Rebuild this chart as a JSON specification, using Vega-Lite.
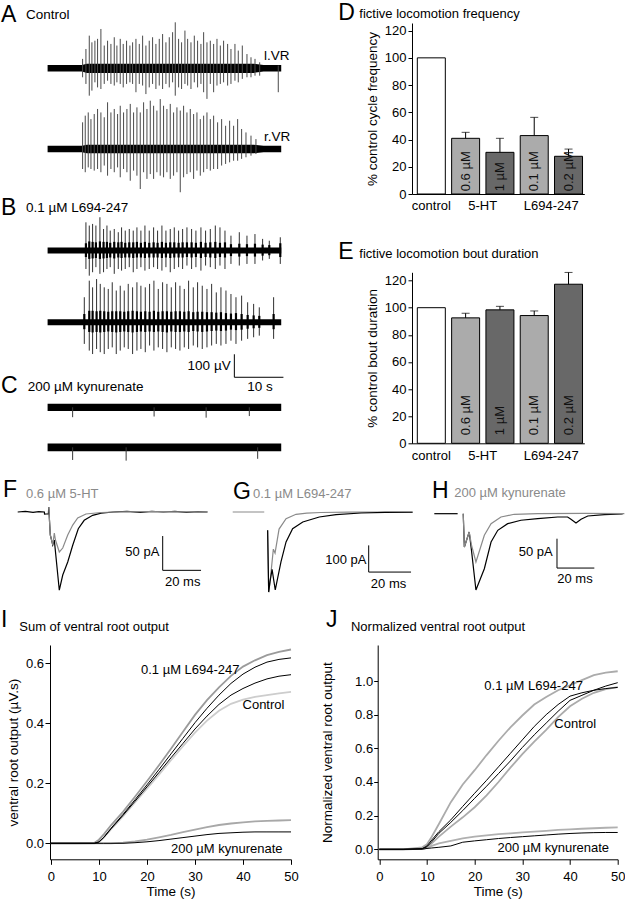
{
"$schema":"https://vega.github.io/schema/vega-lite/v6.json",
"padding":{"top":2,"left":0,"right":0,"bottom":0},
"background":"white",
"config":{
 "view":{"stroke":null},
 "font":"Liberation Sans",
 "axis":{"domainColor":"black","tickColor":"black","labelColor":"black","titleColor":"black","labelFontSize":13,"titleFontSize":13.5,"titleFontWeight":"normal","grid":false,"labelFont":"Liberation Sans","titleFont":"Liberation Sans","domainWidth":1,"tickWidth":1,"labelOverlap":false},
 "axisY":{"labelOverlap":false,"labelSeparation":-20},
 "text":{"font":"Liberation Sans","color":"black"}
},
"datasets":{
"bands":[
{"trace":"A l.VR","t":0,"lo":-14,"hi":14},{"trace":"A l.VR","t":7,"lo":-14,"hi":14},{"trace":"A l.VR","t":8,"lo":-20,"hi":20},{"trace":"A l.VR","t":42,"lo":-20,"hi":20},{"trace":"A l.VR","t":44,"lo":-14,"hi":14},{"trace":"A l.VR","t":47.6,"lo":-14,"hi":14},
{"trace":"A r.VR","t":0,"lo":-14,"hi":14},{"trace":"A r.VR","t":7,"lo":-14,"hi":14},{"trace":"A r.VR","t":8,"lo":-19,"hi":19},{"trace":"A r.VR","t":42,"lo":-19,"hi":19},{"trace":"A r.VR","t":44,"lo":-14,"hi":14},{"trace":"A r.VR","t":47.6,"lo":-14,"hi":14},
{"trace":"B l.VR","t":0,"lo":-13,"hi":13},{"trace":"B l.VR","t":47.6,"lo":-13,"hi":13},
{"trace":"B r.VR","t":0,"lo":-13,"hi":13},{"trace":"B r.VR","t":47.6,"lo":-13,"hi":13},
{"trace":"C l.VR","t":0,"lo":-16,"hi":16},{"trace":"C l.VR","t":47.6,"lo":-16,"hi":16},
{"trace":"C r.VR","t":0,"lo":-17,"hi":17},{"trace":"C r.VR","t":47.6,"lo":-17,"hi":17}
],
"spikes":[
{"trace":"A l.VR","t":7.13,"lo":-39,"hi":41},{"trace":"A l.VR","t":7.81,"lo":-68,"hi":84},{"trace":"A l.VR","t":8.49,"lo":-119,"hi":142},{"trace":"A l.VR","t":9.03,"lo":-97,"hi":113},{"trace":"A l.VR","t":9.64,"lo":-61,"hi":120},{"trace":"A l.VR","t":10.18,"lo":-83,"hi":128},{"trace":"A l.VR","t":10.86,"lo":-90,"hi":171},{"trace":"A l.VR","t":11.54,"lo":-68,"hi":99},{"trace":"A l.VR","t":12.22,"lo":-54,"hi":120},{"trace":"A l.VR","t":12.9,"lo":-68,"hi":106},{"trace":"A l.VR","t":13.58,"lo":-75,"hi":135},{"trace":"A l.VR","t":14.12,"lo":-61,"hi":99},{"trace":"A l.VR","t":14.8,"lo":-68,"hi":128},{"trace":"A l.VR","t":15.41,"lo":-83,"hi":106},{"trace":"A l.VR","t":16.09,"lo":-68,"hi":120},{"trace":"A l.VR","t":16.77,"lo":-61,"hi":99},{"trace":"A l.VR","t":17.32,"lo":-68,"hi":113},{"trace":"A l.VR","t":18.0,"lo":-104,"hi":128},{"trace":"A l.VR","t":18.68,"lo":-68,"hi":106},{"trace":"A l.VR","t":19.36,"lo":-75,"hi":142},{"trace":"A l.VR","t":20.03,"lo":-112,"hi":99},{"trace":"A l.VR","t":20.71,"lo":-83,"hi":120},{"trace":"A l.VR","t":21.39,"lo":-68,"hi":135},{"trace":"A l.VR","t":22.07,"lo":-90,"hi":106},{"trace":"A l.VR","t":22.75,"lo":-75,"hi":128},{"trace":"A l.VR","t":23.43,"lo":-90,"hi":149},{"trace":"A l.VR","t":24.11,"lo":-68,"hi":113},{"trace":"A l.VR","t":24.79,"lo":-83,"hi":135},{"trace":"A l.VR","t":25.47,"lo":-61,"hi":157},{"trace":"A l.VR","t":26.01,"lo":-119,"hi":200},{"trace":"A l.VR","t":26.69,"lo":-83,"hi":128},{"trace":"A l.VR","t":27.3,"lo":-90,"hi":113},{"trace":"A l.VR","t":27.98,"lo":-68,"hi":164},{"trace":"A l.VR","t":28.53,"lo":-75,"hi":128},{"trace":"A l.VR","t":29.21,"lo":-90,"hi":113},{"trace":"A l.VR","t":29.89,"lo":-61,"hi":142},{"trace":"A l.VR","t":30.56,"lo":-83,"hi":120},{"trace":"A l.VR","t":31.24,"lo":-68,"hi":106},{"trace":"A l.VR","t":31.79,"lo":-104,"hi":157},{"trace":"A l.VR","t":32.47,"lo":-133,"hi":113},{"trace":"A l.VR","t":33.15,"lo":-68,"hi":120},{"trace":"A l.VR","t":33.83,"lo":-104,"hi":106},{"trace":"A l.VR","t":34.51,"lo":-75,"hi":128},{"trace":"A l.VR","t":35.19,"lo":-68,"hi":99},{"trace":"A l.VR","t":35.86,"lo":-61,"hi":120},{"trace":"A l.VR","t":36.68,"lo":-75,"hi":106},{"trace":"A l.VR","t":37.36,"lo":-68,"hi":84},{"trace":"A l.VR","t":38.17,"lo":-54,"hi":106},{"trace":"A l.VR","t":38.85,"lo":-61,"hi":77},{"trace":"A l.VR","t":39.67,"lo":-46,"hi":99},{"trace":"A l.VR","t":40.62,"lo":-39,"hi":62},{"trace":"A l.VR","t":41.44,"lo":-39,"hi":48},{"trace":"A l.VR","t":42.26,"lo":-32,"hi":41},{"trace":"A l.VR","t":43.21,"lo":-32,"hi":26},{"trace":"A l.VR","t":47.0,"lo":-104,"hi":12},
{"trace":"A r.VR","t":7.13,"lo":-87,"hi":116},{"trace":"A r.VR","t":7.67,"lo":-101,"hi":145},{"trace":"A r.VR","t":8.28,"lo":-80,"hi":159},{"trace":"A r.VR","t":8.83,"lo":-87,"hi":130},{"trace":"A r.VR","t":9.5,"lo":-94,"hi":152},{"trace":"A r.VR","t":10.18,"lo":-87,"hi":174},{"trace":"A r.VR","t":10.86,"lo":-101,"hi":159},{"trace":"A r.VR","t":11.54,"lo":-72,"hi":138},{"trace":"A r.VR","t":12.22,"lo":-116,"hi":203},{"trace":"A r.VR","t":12.9,"lo":-87,"hi":159},{"trace":"A r.VR","t":13.58,"lo":-101,"hi":174},{"trace":"A r.VR","t":14.26,"lo":-80,"hi":152},{"trace":"A r.VR","t":14.8,"lo":-123,"hi":188},{"trace":"A r.VR","t":15.48,"lo":-87,"hi":159},{"trace":"A r.VR","t":16.16,"lo":-101,"hi":174},{"trace":"A r.VR","t":16.84,"lo":-138,"hi":196},{"trace":"A r.VR","t":17.52,"lo":-94,"hi":159},{"trace":"A r.VR","t":18.2,"lo":-116,"hi":181},{"trace":"A r.VR","t":18.88,"lo":-174,"hi":159},{"trace":"A r.VR","t":19.56,"lo":-101,"hi":203},{"trace":"A r.VR","t":20.24,"lo":-130,"hi":174},{"trace":"A r.VR","t":20.92,"lo":-109,"hi":210},{"trace":"A r.VR","t":21.6,"lo":-130,"hi":188},{"trace":"A r.VR","t":22.27,"lo":-101,"hi":167},{"trace":"A r.VR","t":22.95,"lo":-116,"hi":217},{"trace":"A r.VR","t":23.63,"lo":-123,"hi":188},{"trace":"A r.VR","t":24.31,"lo":-101,"hi":174},{"trace":"A r.VR","t":24.99,"lo":-130,"hi":196},{"trace":"A r.VR","t":25.67,"lo":-116,"hi":159},{"trace":"A r.VR","t":26.35,"lo":-101,"hi":181},{"trace":"A r.VR","t":27.03,"lo":-188,"hi":167},{"trace":"A r.VR","t":27.71,"lo":-123,"hi":188},{"trace":"A r.VR","t":28.39,"lo":-109,"hi":159},{"trace":"A r.VR","t":29.07,"lo":-101,"hi":174},{"trace":"A r.VR","t":29.75,"lo":-130,"hi":152},{"trace":"A r.VR","t":30.43,"lo":-94,"hi":159},{"trace":"A r.VR","t":31.11,"lo":-116,"hi":130},{"trace":"A r.VR","t":31.79,"lo":-101,"hi":145},{"trace":"A r.VR","t":32.47,"lo":-87,"hi":159},{"trace":"A r.VR","t":33.15,"lo":-94,"hi":130},{"trace":"A r.VR","t":33.83,"lo":-87,"hi":145},{"trace":"A r.VR","t":34.64,"lo":-87,"hi":116},{"trace":"A r.VR","t":35.46,"lo":-72,"hi":130},{"trace":"A r.VR","t":36.27,"lo":-65,"hi":101},{"trace":"A r.VR","t":37.09,"lo":-58,"hi":123},{"trace":"A r.VR","t":37.9,"lo":-51,"hi":101},{"trace":"A r.VR","t":38.72,"lo":-51,"hi":130},{"trace":"A r.VR","t":39.53,"lo":-43,"hi":87},{"trace":"A r.VR","t":40.42,"lo":-36,"hi":72},{"trace":"A r.VR","t":41.44,"lo":-29,"hi":58},{"trace":"A r.VR","t":42.45,"lo":-22,"hi":43},
{"trace":"B l.VR","t":7.81,"lo":-80,"hi":123},{"trace":"B l.VR","t":8.49,"lo":-109,"hi":109},{"trace":"B l.VR","t":9.17,"lo":-94,"hi":116},{"trace":"B l.VR","t":9.84,"lo":-72,"hi":109},{"trace":"B l.VR","t":10.66,"lo":-101,"hi":145},{"trace":"B l.VR","t":11.4,"lo":-94,"hi":94},{"trace":"B l.VR","t":12.09,"lo":-80,"hi":109},{"trace":"B l.VR","t":12.76,"lo":-72,"hi":87},{"trace":"B l.VR","t":13.58,"lo":-101,"hi":94},{"trace":"B l.VR","t":14.4,"lo":-80,"hi":80},{"trace":"B l.VR","t":15.07,"lo":-87,"hi":101},{"trace":"B l.VR","t":15.82,"lo":-80,"hi":87},{"trace":"B l.VR","t":16.64,"lo":-72,"hi":94},{"trace":"B l.VR","t":17.45,"lo":-94,"hi":87},{"trace":"B l.VR","t":18.2,"lo":-80,"hi":101},{"trace":"B l.VR","t":19.01,"lo":-72,"hi":87},{"trace":"B l.VR","t":19.83,"lo":-87,"hi":109},{"trace":"B l.VR","t":20.71,"lo":-80,"hi":87},{"trace":"B l.VR","t":21.6,"lo":-72,"hi":101},{"trace":"B l.VR","t":22.41,"lo":-80,"hi":87},{"trace":"B l.VR","t":23.29,"lo":-87,"hi":109},{"trace":"B l.VR","t":24.11,"lo":-72,"hi":87},{"trace":"B l.VR","t":24.99,"lo":-94,"hi":94},{"trace":"B l.VR","t":25.81,"lo":-80,"hi":101},{"trace":"B l.VR","t":26.69,"lo":-72,"hi":87},{"trace":"B l.VR","t":27.51,"lo":-80,"hi":94},{"trace":"B l.VR","t":28.39,"lo":-65,"hi":101},{"trace":"B l.VR","t":29.34,"lo":-80,"hi":94},{"trace":"B l.VR","t":30.22,"lo":-72,"hi":87},{"trace":"B l.VR","t":31.24,"lo":-87,"hi":101},{"trace":"B l.VR","t":32.19,"lo":-65,"hi":87},{"trace":"B l.VR","t":33.15,"lo":-72,"hi":94},{"trace":"B l.VR","t":34.17,"lo":-80,"hi":109},{"trace":"B l.VR","t":35.12,"lo":-65,"hi":101},{"trace":"B l.VR","t":36.14,"lo":-80,"hi":87},{"trace":"B l.VR","t":37.36,"lo":-58,"hi":65},{"trace":"B l.VR","t":39.06,"lo":-65,"hi":80},{"trace":"B l.VR","t":40.62,"lo":-58,"hi":65},{"trace":"B l.VR","t":42.25,"lo":-58,"hi":72},{"trace":"B l.VR","t":43.81,"lo":-43,"hi":51},{"trace":"B l.VR","t":45.17,"lo":-36,"hi":43},{"trace":"B l.VR","t":47.41,"lo":-58,"hi":58},
{"trace":"B r.VR","t":7.48,"lo":-94,"hi":109},{"trace":"B r.VR","t":8.49,"lo":-123,"hi":181},{"trace":"B r.VR","t":9.17,"lo":-138,"hi":152},{"trace":"B r.VR","t":9.98,"lo":-116,"hi":188},{"trace":"B r.VR","t":10.73,"lo":-130,"hi":167},{"trace":"B r.VR","t":11.54,"lo":-138,"hi":152},{"trace":"B r.VR","t":12.36,"lo":-116,"hi":145},{"trace":"B r.VR","t":13.17,"lo":-109,"hi":174},{"trace":"B r.VR","t":13.99,"lo":-138,"hi":138},{"trace":"B r.VR","t":14.8,"lo":-123,"hi":159},{"trace":"B r.VR","t":15.62,"lo":-109,"hi":138},{"trace":"B r.VR","t":16.43,"lo":-116,"hi":167},{"trace":"B r.VR","t":17.32,"lo":-138,"hi":152},{"trace":"B r.VR","t":18.2,"lo":-123,"hi":174},{"trace":"B r.VR","t":19.01,"lo":-116,"hi":159},{"trace":"B r.VR","t":19.9,"lo":-130,"hi":152},{"trace":"B r.VR","t":20.78,"lo":-101,"hi":167},{"trace":"B r.VR","t":21.66,"lo":-123,"hi":181},{"trace":"B r.VR","t":22.55,"lo":-109,"hi":145},{"trace":"B r.VR","t":23.43,"lo":-116,"hi":174},{"trace":"B r.VR","t":24.31,"lo":-130,"hi":167},{"trace":"B r.VR","t":25.2,"lo":-109,"hi":152},{"trace":"B r.VR","t":26.08,"lo":-116,"hi":174},{"trace":"B r.VR","t":26.96,"lo":-123,"hi":159},{"trace":"B r.VR","t":27.85,"lo":-109,"hi":145},{"trace":"B r.VR","t":28.73,"lo":-116,"hi":181},{"trace":"B r.VR","t":29.68,"lo":-101,"hi":152},{"trace":"B r.VR","t":30.56,"lo":-109,"hi":174},{"trace":"B r.VR","t":31.51,"lo":-116,"hi":159},{"trace":"B r.VR","t":32.47,"lo":-109,"hi":145},{"trace":"B r.VR","t":33.42,"lo":-101,"hi":167},{"trace":"B r.VR","t":34.37,"lo":-94,"hi":130},{"trace":"B r.VR","t":35.32,"lo":-101,"hi":152},{"trace":"B r.VR","t":36.34,"lo":-94,"hi":138},{"trace":"B r.VR","t":37.36,"lo":-80,"hi":123},{"trace":"B r.VR","t":38.38,"lo":-94,"hi":109},{"trace":"B r.VR","t":39.53,"lo":-80,"hi":116},{"trace":"B r.VR","t":40.76,"lo":-72,"hi":87},{"trace":"B r.VR","t":41.98,"lo":-65,"hi":80},{"trace":"B r.VR","t":43.13,"lo":-58,"hi":65},{"trace":"B r.VR","t":46.05,"lo":-72,"hi":109},
{"trace":"C l.VR","t":5.1,"lo":-43,"hi":0},{"trace":"C l.VR","t":21.7,"lo":-40,"hi":0},{"trace":"C l.VR","t":32.3,"lo":-45,"hi":0},{"trace":"C l.VR","t":41.1,"lo":-38,"hi":0},
{"trace":"C r.VR","t":5.1,"lo":-55,"hi":0},{"trace":"C r.VR","t":16.0,"lo":-58,"hi":0},{"trace":"C r.VR","t":42.8,"lo":-50,"hi":0}
],
"cores":[
{"trace":"B l.VR","t":7.81,"lo":-28,"hi":32},{"trace":"B l.VR","t":8.49,"lo":-36,"hi":40},{"trace":"B l.VR","t":9.17,"lo":-34,"hi":38},{"trace":"B l.VR","t":9.84,"lo":-32,"hi":36},{"trace":"B l.VR","t":10.66,"lo":-36,"hi":40},{"trace":"B l.VR","t":11.4,"lo":-34,"hi":38},{"trace":"B l.VR","t":12.09,"lo":-32,"hi":38},{"trace":"B l.VR","t":12.76,"lo":-30,"hi":34},{"trace":"B l.VR","t":13.58,"lo":-34,"hi":38},{"trace":"B l.VR","t":14.4,"lo":-30,"hi":36},{"trace":"B l.VR","t":15.07,"lo":-32,"hi":38},{"trace":"B l.VR","t":15.82,"lo":-30,"hi":34},{"trace":"B l.VR","t":16.64,"lo":-30,"hi":36},{"trace":"B l.VR","t":17.45,"lo":-32,"hi":36},{"trace":"B l.VR","t":18.2,"lo":-30,"hi":38},{"trace":"B l.VR","t":19.01,"lo":-30,"hi":34},{"trace":"B l.VR","t":19.83,"lo":-32,"hi":38},{"trace":"B l.VR","t":20.71,"lo":-30,"hi":34},{"trace":"B l.VR","t":21.6,"lo":-30,"hi":36},{"trace":"B l.VR","t":22.41,"lo":-30,"hi":34},{"trace":"B l.VR","t":23.29,"lo":-32,"hi":38},{"trace":"B l.VR","t":24.11,"lo":-30,"hi":34},{"trace":"B l.VR","t":24.99,"lo":-32,"hi":36},{"trace":"B l.VR","t":25.81,"lo":-30,"hi":36},{"trace":"B l.VR","t":26.69,"lo":-30,"hi":34},{"trace":"B l.VR","t":27.51,"lo":-30,"hi":36},{"trace":"B l.VR","t":28.39,"lo":-28,"hi":36},{"trace":"B l.VR","t":29.34,"lo":-30,"hi":36},{"trace":"B l.VR","t":30.22,"lo":-28,"hi":34},{"trace":"B l.VR","t":31.24,"lo":-32,"hi":38},{"trace":"B l.VR","t":32.19,"lo":-28,"hi":34},{"trace":"B l.VR","t":33.15,"lo":-30,"hi":36},{"trace":"B l.VR","t":34.17,"lo":-32,"hi":38},{"trace":"B l.VR","t":35.12,"lo":-28,"hi":34},{"trace":"B l.VR","t":36.14,"lo":-30,"hi":36},{"trace":"B l.VR","t":37.36,"lo":-24,"hi":28},{"trace":"B l.VR","t":39.06,"lo":-26,"hi":30},{"trace":"B l.VR","t":40.62,"lo":-24,"hi":28},{"trace":"B l.VR","t":42.25,"lo":-26,"hi":30},{"trace":"B l.VR","t":43.81,"lo":-22,"hi":26},{"trace":"B l.VR","t":45.17,"lo":-20,"hi":24},{"trace":"B l.VR","t":47.41,"lo":-28,"hi":32},
{"trace":"B r.VR","t":7.48,"lo":-30,"hi":36},{"trace":"B r.VR","t":8.49,"lo":-42,"hi":50},{"trace":"B r.VR","t":9.17,"lo":-44,"hi":50},{"trace":"B r.VR","t":9.98,"lo":-42,"hi":48},{"trace":"B r.VR","t":10.73,"lo":-44,"hi":50},{"trace":"B r.VR","t":11.54,"lo":-42,"hi":48},{"trace":"B r.VR","t":12.36,"lo":-40,"hi":46},{"trace":"B r.VR","t":13.17,"lo":-42,"hi":48},{"trace":"B r.VR","t":13.99,"lo":-44,"hi":48},{"trace":"B r.VR","t":14.8,"lo":-42,"hi":48},{"trace":"B r.VR","t":15.62,"lo":-40,"hi":46},{"trace":"B r.VR","t":16.43,"lo":-42,"hi":48},{"trace":"B r.VR","t":17.32,"lo":-44,"hi":50},{"trace":"B r.VR","t":18.2,"lo":-42,"hi":48},{"trace":"B r.VR","t":19.01,"lo":-40,"hi":46},{"trace":"B r.VR","t":19.9,"lo":-42,"hi":48},{"trace":"B r.VR","t":20.78,"lo":-40,"hi":46},{"trace":"B r.VR","t":21.66,"lo":-42,"hi":50},{"trace":"B r.VR","t":22.55,"lo":-40,"hi":46},{"trace":"B r.VR","t":23.43,"lo":-42,"hi":48},{"trace":"B r.VR","t":24.31,"lo":-44,"hi":48},{"trace":"B r.VR","t":25.2,"lo":-40,"hi":46},{"trace":"B r.VR","t":26.08,"lo":-42,"hi":48},{"trace":"B r.VR","t":26.96,"lo":-42,"hi":48},{"trace":"B r.VR","t":27.85,"lo":-40,"hi":46},{"trace":"B r.VR","t":28.73,"lo":-42,"hi":48},{"trace":"B r.VR","t":29.68,"lo":-38,"hi":44},{"trace":"B r.VR","t":30.56,"lo":-40,"hi":46},{"trace":"B r.VR","t":31.51,"lo":-42,"hi":46},{"trace":"B r.VR","t":32.47,"lo":-40,"hi":44},{"trace":"B r.VR","t":33.42,"lo":-38,"hi":44},{"trace":"B r.VR","t":34.37,"lo":-36,"hi":42},{"trace":"B r.VR","t":35.32,"lo":-38,"hi":44},{"trace":"B r.VR","t":36.34,"lo":-36,"hi":40},{"trace":"B r.VR","t":37.36,"lo":-32,"hi":38},{"trace":"B r.VR","t":38.38,"lo":-34,"hi":40},{"trace":"B r.VR","t":39.53,"lo":-32,"hi":36},{"trace":"B r.VR","t":40.76,"lo":-28,"hi":32},{"trace":"B r.VR","t":41.98,"lo":-26,"hi":30},{"trace":"B r.VR","t":43.13,"lo":-24,"hi":28},{"trace":"B r.VR","t":46.05,"lo":-30,"hi":36}
],
"freq":[
{"condition":"control","dose":"control","label":"","mean":100,"upper":100},
{"condition":"0.6 µM 5-HT","dose":"lower dose","label":"0.6 µM","mean":40.9,"upper":45.3},
{"condition":"1 µM 5-HT","dose":"higher dose","label":"1 µM","mean":30.6,"upper":40.9},
{"condition":"0.1 µM L694-247","dose":"lower dose","label":"0.1 µM","mean":42.9,"upper":56.3},
{"condition":"0.2 µM L694-247","dose":"higher dose","label":"0.2 µM","mean":27.7,"upper":33.0}
],
"dur":[
{"condition":"control","dose":"control","label":"","mean":100,"upper":100},
{"condition":"0.6 µM 5-HT","dose":"lower dose","label":"0.6 µM","mean":92.5,"upper":95.9},
{"condition":"1 µM 5-HT","dose":"higher dose","label":"1 µM","mean":98.4,"upper":101.0},
{"condition":"0.1 µM L694-247","dose":"lower dose","label":"0.1 µM","mean":94.2,"upper":97.6},
{"condition":"0.2 µM L694-247","dose":"higher dose","label":"0.2 µM","mean":117.3,"upper":126.0}
],
"epsc":[
{"panel":"F","cond":"control","part":"main","t":0,"i":0},{"panel":"F","cond":"control","part":"main","t":4,"i":0.8},{"panel":"F","cond":"control","part":"main","t":8,"i":-0.6},{"panel":"F","cond":"control","part":"main","t":11,"i":0.5},{"panel":"F","cond":"control","part":"main","t":13.9,"i":0},{"panel":"F","cond":"control","part":"main","t":14.0,"i":-2.9},{"panel":"F","cond":"control","part":"main","t":16.0,"i":-2.5},{"panel":"F","cond":"control","part":"main","t":16.2,"i":7.3},{"panel":"F","cond":"control","part":"main","t":17.0,"i":-33.5},{"panel":"F","cond":"control","part":"main","t":18.3,"i":-48},{"panel":"F","cond":"control","part":"main","t":19.1,"i":-41},{"panel":"F","cond":"control","part":"main","t":21.7,"i":-114},{"panel":"F","cond":"control","part":"main","t":23.5,"i":-91.8},{"panel":"F","cond":"control","part":"main","t":26.1,"i":-72.9},{"panel":"F","cond":"control","part":"main","t":28.7,"i":-48.5},{"panel":"F","cond":"control","part":"main","t":31.6,"i":-24.3},{"panel":"F","cond":"control","part":"main","t":34.7,"i":-12.1},{"panel":"F","cond":"control","part":"main","t":39.1,"i":-4.8},{"panel":"F","cond":"control","part":"main","t":43.5,"i":-1.5},{"panel":"F","cond":"control","part":"main","t":50,"i":0},{"panel":"F","cond":"control","part":"main","t":57,"i":0.8},{"panel":"F","cond":"control","part":"main","t":64,"i":-0.5},{"panel":"F","cond":"control","part":"main","t":70,"i":1},{"panel":"F","cond":"control","part":"main","t":76,"i":0},{"panel":"F","cond":"control","part":"main","t":82,"i":1},{"panel":"F","cond":"control","part":"main","t":88,"i":-0.6},{"panel":"F","cond":"control","part":"main","t":94,"i":0.5},{"panel":"F","cond":"control","part":"main","t":99,"i":0},
{"panel":"F","cond":"drug","part":"main","t":16.2,"i":7.3},{"panel":"F","cond":"drug","part":"main","t":17.0,"i":-33.5},{"panel":"F","cond":"drug","part":"main","t":18.3,"i":-48},{"panel":"F","cond":"drug","part":"main","t":19.1,"i":-30.6},{"panel":"F","cond":"drug","part":"main","t":19.7,"i":-40.8},{"panel":"F","cond":"drug","part":"main","t":21.7,"i":-58.3},{"panel":"F","cond":"drug","part":"main","t":23.5,"i":-52.5},{"panel":"F","cond":"drug","part":"main","t":26.1,"i":-33.5},{"panel":"F","cond":"drug","part":"main","t":28.7,"i":-19},{"panel":"F","cond":"drug","part":"main","t":31.3,"i":-8.7},{"panel":"F","cond":"drug","part":"main","t":35.6,"i":-2.9},{"panel":"F","cond":"drug","part":"main","t":43.5,"i":-0.7},{"panel":"F","cond":"drug","part":"main","t":55,"i":0.4},{"panel":"F","cond":"drug","part":"main","t":70,"i":0.6},{"panel":"F","cond":"drug","part":"main","t":85,"i":0.2},{"panel":"F","cond":"drug","part":"main","t":99,"i":0.3},
{"panel":"G","cond":"drug","part":"pre","t":0,"i":0},{"panel":"G","cond":"drug","part":"pre","t":14.9,"i":0},
{"panel":"G","cond":"drug","part":"main","t":16.5,"i":-68},{"panel":"G","cond":"drug","part":"main","t":17.0,"i":-300},{"panel":"G","cond":"drug","part":"main","t":17.6,"i":-265},{"panel":"G","cond":"drug","part":"main","t":19.2,"i":-139},{"panel":"G","cond":"drug","part":"main","t":20.0,"i":-154},{"panel":"G","cond":"drug","part":"main","t":21.9,"i":-64},{"panel":"G","cond":"drug","part":"main","t":25.2,"i":-25},{"panel":"G","cond":"drug","part":"main","t":29.9,"i":-8.6},{"panel":"G","cond":"drug","part":"main","t":35,"i":-4},{"panel":"G","cond":"drug","part":"main","t":41.7,"i":-1.9},{"panel":"G","cond":"drug","part":"main","t":55,"i":-0.5},{"panel":"G","cond":"drug","part":"main","t":70,"i":0},{"panel":"G","cond":"drug","part":"main","t":85,"i":0},
{"panel":"G","cond":"control","part":"main","t":16.5,"i":-68},{"panel":"G","cond":"control","part":"main","t":17.0,"i":-300},{"panel":"G","cond":"control","part":"main","t":17.6,"i":-262},{"panel":"G","cond":"control","part":"main","t":18.6,"i":-215},{"panel":"G","cond":"control","part":"main","t":20.1,"i":-292},{"panel":"G","cond":"control","part":"main","t":22.8,"i":-187},{"panel":"G","cond":"control","part":"main","t":25.2,"i":-112},{"panel":"G","cond":"control","part":"main","t":28.3,"i":-62.5},{"panel":"G","cond":"control","part":"main","t":33.1,"i":-37.5},{"panel":"G","cond":"control","part":"main","t":40.9,"i":-18.7},{"panel":"G","cond":"control","part":"main","t":48.8,"i":-10.1},{"panel":"G","cond":"control","part":"main","t":60.6,"i":-3.7},{"panel":"G","cond":"control","part":"main","t":72,"i":-1.5},{"panel":"G","cond":"control","part":"main","t":85,"i":-1},
{"panel":"H","cond":"control","part":"pre","t":0,"i":0},{"panel":"H","cond":"control","part":"pre","t":12.5,"i":0},
{"panel":"H","cond":"control","part":"main","t":15.5,"i":0},{"panel":"H","cond":"control","part":"main","t":16.1,"i":-56.7},{"panel":"H","cond":"control","part":"main","t":18.7,"i":-31.2},{"panel":"H","cond":"control","part":"main","t":19.9,"i":-62},{"panel":"H","cond":"control","part":"main","t":22.3,"i":-130},{"panel":"H","cond":"control","part":"main","t":26.8,"i":-93.7},{"panel":"H","cond":"control","part":"main","t":30.4,"i":-48.2},{"panel":"H","cond":"control","part":"main","t":34,"i":-28.3},{"panel":"H","cond":"control","part":"main","t":39.3,"i":-17},{"panel":"H","cond":"control","part":"main","t":46.4,"i":-11.2},{"panel":"H","cond":"control","part":"main","t":55.4,"i":-8.5},{"panel":"H","cond":"control","part":"main","t":66.1,"i":-5.6},{"panel":"H","cond":"control","part":"main","t":71.4,"i":-5.6},{"panel":"H","cond":"control","part":"main","t":73.2,"i":-9.5},{"panel":"H","cond":"control","part":"main","t":75.9,"i":-15.8},{"panel":"H","cond":"control","part":"main","t":78.6,"i":-9.5},{"panel":"H","cond":"control","part":"main","t":82.2,"i":-3.9},{"panel":"H","cond":"control","part":"main","t":91.1,"i":-1.7},{"panel":"H","cond":"control","part":"main","t":100.9,"i":-0.5},
{"panel":"H","cond":"drug","part":"main","t":15.5,"i":0},{"panel":"H","cond":"drug","part":"main","t":16.1,"i":-56.7},{"panel":"H","cond":"drug","part":"main","t":18.7,"i":-31.2},{"panel":"H","cond":"drug","part":"main","t":19.9,"i":-53},{"panel":"H","cond":"drug","part":"main","t":22.3,"i":-82.3},{"panel":"H","cond":"drug","part":"main","t":26.8,"i":-36.8},{"panel":"H","cond":"drug","part":"main","t":30.4,"i":-17},{"panel":"H","cond":"drug","part":"main","t":35.7,"i":-5.6},{"panel":"H","cond":"drug","part":"main","t":42.8,"i":-1},{"panel":"H","cond":"drug","part":"main","t":55.4,"i":0},{"panel":"H","cond":"drug","part":"main","t":80,"i":0.5},{"panel":"H","cond":"drug","part":"main","t":101.8,"i":0}
],
"vr":[
{"panel":"I","cond":"L694-247","rep":"a","t":0,"v":0},{"panel":"I","cond":"L694-247","rep":"a","t":5,"v":0},{"panel":"I","cond":"L694-247","rep":"a","t":9,"v":0.001},{"panel":"I","cond":"L694-247","rep":"a","t":10,"v":0.012},{"panel":"I","cond":"L694-247","rep":"a","t":11,"v":0.03},{"panel":"I","cond":"L694-247","rep":"a","t":12.5,"v":0.06},{"panel":"I","cond":"L694-247","rep":"a","t":15,"v":0.105},{"panel":"I","cond":"L694-247","rep":"a","t":17.5,"v":0.155},{"panel":"I","cond":"L694-247","rep":"a","t":20,"v":0.207},{"panel":"I","cond":"L694-247","rep":"a","t":22.5,"v":0.26},{"panel":"I","cond":"L694-247","rep":"a","t":25,"v":0.315},{"panel":"I","cond":"L694-247","rep":"a","t":27.5,"v":0.372},{"panel":"I","cond":"L694-247","rep":"a","t":30,"v":0.428},{"panel":"I","cond":"L694-247","rep":"a","t":32.5,"v":0.477},{"panel":"I","cond":"L694-247","rep":"a","t":35,"v":0.52},{"panel":"I","cond":"L694-247","rep":"a","t":37.5,"v":0.558},{"panel":"I","cond":"L694-247","rep":"a","t":40,"v":0.589},{"panel":"I","cond":"L694-247","rep":"a","t":42.5,"v":0.61},{"panel":"I","cond":"L694-247","rep":"a","t":45,"v":0.627},{"panel":"I","cond":"L694-247","rep":"a","t":47.5,"v":0.638},{"panel":"I","cond":"L694-247","rep":"a","t":50,"v":0.646},
{"panel":"I","cond":"L694-247","rep":"b","t":0,"v":0},{"panel":"I","cond":"L694-247","rep":"b","t":5,"v":0},{"panel":"I","cond":"L694-247","rep":"b","t":9,"v":0},{"panel":"I","cond":"L694-247","rep":"b","t":10,"v":0.005},{"panel":"I","cond":"L694-247","rep":"b","t":11,"v":0.02},{"panel":"I","cond":"L694-247","rep":"b","t":12.5,"v":0.05},{"panel":"I","cond":"L694-247","rep":"b","t":15,"v":0.096},{"panel":"I","cond":"L694-247","rep":"b","t":17.5,"v":0.145},{"panel":"I","cond":"L694-247","rep":"b","t":20,"v":0.195},{"panel":"I","cond":"L694-247","rep":"b","t":22.5,"v":0.246},{"panel":"I","cond":"L694-247","rep":"b","t":25,"v":0.298},{"panel":"I","cond":"L694-247","rep":"b","t":27.5,"v":0.35},{"panel":"I","cond":"L694-247","rep":"b","t":30,"v":0.402},{"panel":"I","cond":"L694-247","rep":"b","t":32.5,"v":0.45},{"panel":"I","cond":"L694-247","rep":"b","t":35,"v":0.494},{"panel":"I","cond":"L694-247","rep":"b","t":37.5,"v":0.533},{"panel":"I","cond":"L694-247","rep":"b","t":40,"v":0.564},{"panel":"I","cond":"L694-247","rep":"b","t":42.5,"v":0.587},{"panel":"I","cond":"L694-247","rep":"b","t":45,"v":0.604},{"panel":"I","cond":"L694-247","rep":"b","t":47.5,"v":0.613},{"panel":"I","cond":"L694-247","rep":"b","t":50,"v":0.618},
{"panel":"I","cond":"Control","rep":"a","t":0,"v":0},{"panel":"I","cond":"Control","rep":"a","t":5,"v":0},{"panel":"I","cond":"Control","rep":"a","t":9,"v":0},{"panel":"I","cond":"Control","rep":"a","t":10,"v":0.004},{"panel":"I","cond":"Control","rep":"a","t":11,"v":0.019},{"panel":"I","cond":"Control","rep":"a","t":12.5,"v":0.046},{"panel":"I","cond":"Control","rep":"a","t":15,"v":0.09},{"panel":"I","cond":"Control","rep":"a","t":17.5,"v":0.136},{"panel":"I","cond":"Control","rep":"a","t":20,"v":0.182},{"panel":"I","cond":"Control","rep":"a","t":22.5,"v":0.229},{"panel":"I","cond":"Control","rep":"a","t":25,"v":0.277},{"panel":"I","cond":"Control","rep":"a","t":27.5,"v":0.324},{"panel":"I","cond":"Control","rep":"a","t":30,"v":0.369},{"panel":"I","cond":"Control","rep":"a","t":32.5,"v":0.409},{"panel":"I","cond":"Control","rep":"a","t":35,"v":0.442},{"panel":"I","cond":"Control","rep":"a","t":37.5,"v":0.465},{"panel":"I","cond":"Control","rep":"a","t":40,"v":0.479},{"panel":"I","cond":"Control","rep":"a","t":42.5,"v":0.488},{"panel":"I","cond":"Control","rep":"a","t":45,"v":0.494},{"panel":"I","cond":"Control","rep":"a","t":47.5,"v":0.5},{"panel":"I","cond":"Control","rep":"a","t":50,"v":0.505},
{"panel":"I","cond":"Control","rep":"b","t":0,"v":0},{"panel":"I","cond":"Control","rep":"b","t":5,"v":0},{"panel":"I","cond":"Control","rep":"b","t":9,"v":0},{"panel":"I","cond":"Control","rep":"b","t":10,"v":0.004},{"panel":"I","cond":"Control","rep":"b","t":11,"v":0.019},{"panel":"I","cond":"Control","rep":"b","t":12.5,"v":0.048},{"panel":"I","cond":"Control","rep":"b","t":15,"v":0.093},{"panel":"I","cond":"Control","rep":"b","t":17.5,"v":0.14},{"panel":"I","cond":"Control","rep":"b","t":20,"v":0.188},{"panel":"I","cond":"Control","rep":"b","t":22.5,"v":0.236},{"panel":"I","cond":"Control","rep":"b","t":25,"v":0.285},{"panel":"I","cond":"Control","rep":"b","t":27.5,"v":0.333},{"panel":"I","cond":"Control","rep":"b","t":30,"v":0.381},{"panel":"I","cond":"Control","rep":"b","t":32.5,"v":0.424},{"panel":"I","cond":"Control","rep":"b","t":35,"v":0.463},{"panel":"I","cond":"Control","rep":"b","t":37.5,"v":0.494},{"panel":"I","cond":"Control","rep":"b","t":40,"v":0.516},{"panel":"I","cond":"Control","rep":"b","t":42.5,"v":0.534},{"panel":"I","cond":"Control","rep":"b","t":45,"v":0.548},{"panel":"I","cond":"Control","rep":"b","t":47.5,"v":0.557},{"panel":"I","cond":"Control","rep":"b","t":50,"v":0.562},
{"panel":"I","cond":"Kynurenate","rep":"a","t":0,"v":0},{"panel":"I","cond":"Kynurenate","rep":"a","t":5,"v":0},{"panel":"I","cond":"Kynurenate","rep":"a","t":9,"v":0},{"panel":"I","cond":"Kynurenate","rep":"a","t":10,"v":0},{"panel":"I","cond":"Kynurenate","rep":"a","t":11,"v":0},{"panel":"I","cond":"Kynurenate","rep":"a","t":12.5,"v":0},{"panel":"I","cond":"Kynurenate","rep":"a","t":15,"v":0.002},{"panel":"I","cond":"Kynurenate","rep":"a","t":17.5,"v":0.006},{"panel":"I","cond":"Kynurenate","rep":"a","t":20,"v":0.012},{"panel":"I","cond":"Kynurenate","rep":"a","t":22.5,"v":0.02},{"panel":"I","cond":"Kynurenate","rep":"a","t":25,"v":0.028},{"panel":"I","cond":"Kynurenate","rep":"a","t":27.5,"v":0.037},{"panel":"I","cond":"Kynurenate","rep":"a","t":30,"v":0.046},{"panel":"I","cond":"Kynurenate","rep":"a","t":32.5,"v":0.054},{"panel":"I","cond":"Kynurenate","rep":"a","t":35,"v":0.061},{"panel":"I","cond":"Kynurenate","rep":"a","t":37.5,"v":0.066},{"panel":"I","cond":"Kynurenate","rep":"a","t":40,"v":0.07},{"panel":"I","cond":"Kynurenate","rep":"a","t":42.5,"v":0.073},{"panel":"I","cond":"Kynurenate","rep":"a","t":45,"v":0.075},{"panel":"I","cond":"Kynurenate","rep":"a","t":47.5,"v":0.076},{"panel":"I","cond":"Kynurenate","rep":"a","t":50,"v":0.077},
{"panel":"I","cond":"Kynurenate","rep":"b","t":0,"v":0},{"panel":"I","cond":"Kynurenate","rep":"b","t":5,"v":0},{"panel":"I","cond":"Kynurenate","rep":"b","t":9,"v":0},{"panel":"I","cond":"Kynurenate","rep":"b","t":10,"v":0},{"panel":"I","cond":"Kynurenate","rep":"b","t":11,"v":0},{"panel":"I","cond":"Kynurenate","rep":"b","t":12.5,"v":0},{"panel":"I","cond":"Kynurenate","rep":"b","t":15,"v":0},{"panel":"I","cond":"Kynurenate","rep":"b","t":17.5,"v":0.002},{"panel":"I","cond":"Kynurenate","rep":"b","t":20,"v":0.005},{"panel":"I","cond":"Kynurenate","rep":"b","t":22.5,"v":0.009},{"panel":"I","cond":"Kynurenate","rep":"b","t":25,"v":0.014},{"panel":"I","cond":"Kynurenate","rep":"b","t":27.5,"v":0.019},{"panel":"I","cond":"Kynurenate","rep":"b","t":30,"v":0.024},{"panel":"I","cond":"Kynurenate","rep":"b","t":32.5,"v":0.029},{"panel":"I","cond":"Kynurenate","rep":"b","t":35,"v":0.033},{"panel":"I","cond":"Kynurenate","rep":"b","t":37.5,"v":0.035},{"panel":"I","cond":"Kynurenate","rep":"b","t":40,"v":0.037},{"panel":"I","cond":"Kynurenate","rep":"b","t":42.5,"v":0.038},{"panel":"I","cond":"Kynurenate","rep":"b","t":45,"v":0.038},{"panel":"I","cond":"Kynurenate","rep":"b","t":47.5,"v":0.038},{"panel":"I","cond":"Kynurenate","rep":"b","t":50,"v":0.038},
{"panel":"J","cond":"L694-247","rep":"a","t":0,"v":0},{"panel":"J","cond":"L694-247","rep":"a","t":5,"v":0},{"panel":"J","cond":"L694-247","rep":"a","t":9,"v":0.012},{"panel":"J","cond":"L694-247","rep":"a","t":10,"v":0.03},{"panel":"J","cond":"L694-247","rep":"a","t":11,"v":0.075},{"panel":"J","cond":"L694-247","rep":"a","t":12.5,"v":0.15},{"panel":"J","cond":"L694-247","rep":"a","t":15,"v":0.28},{"panel":"J","cond":"L694-247","rep":"a","t":17.5,"v":0.385},{"panel":"J","cond":"L694-247","rep":"a","t":20,"v":0.47},{"panel":"J","cond":"L694-247","rep":"a","t":22.5,"v":0.56},{"panel":"J","cond":"L694-247","rep":"a","t":25,"v":0.645},{"panel":"J","cond":"L694-247","rep":"a","t":27.5,"v":0.725},{"panel":"J","cond":"L694-247","rep":"a","t":30,"v":0.795},{"panel":"J","cond":"L694-247","rep":"a","t":32.5,"v":0.86},{"panel":"J","cond":"L694-247","rep":"a","t":35,"v":0.905},{"panel":"J","cond":"L694-247","rep":"a","t":37.5,"v":0.945},{"panel":"J","cond":"L694-247","rep":"a","t":40,"v":0.975},{"panel":"J","cond":"L694-247","rep":"a","t":42.5,"v":1.005},{"panel":"J","cond":"L694-247","rep":"a","t":45,"v":1.035},{"panel":"J","cond":"L694-247","rep":"a","t":47.5,"v":1.05},{"panel":"J","cond":"L694-247","rep":"a","t":50,"v":1.058},
{"panel":"J","cond":"L694-247","rep":"b","t":0,"v":0},{"panel":"J","cond":"L694-247","rep":"b","t":5,"v":0},{"panel":"J","cond":"L694-247","rep":"b","t":9,"v":0.004},{"panel":"J","cond":"L694-247","rep":"b","t":10,"v":0.02},{"panel":"J","cond":"L694-247","rep":"b","t":11,"v":0.055},{"panel":"J","cond":"L694-247","rep":"b","t":12.5,"v":0.105},{"panel":"J","cond":"L694-247","rep":"b","t":15,"v":0.175},{"panel":"J","cond":"L694-247","rep":"b","t":17.5,"v":0.255},{"panel":"J","cond":"L694-247","rep":"b","t":20,"v":0.333},{"panel":"J","cond":"L694-247","rep":"b","t":22.5,"v":0.41},{"panel":"J","cond":"L694-247","rep":"b","t":25,"v":0.49},{"panel":"J","cond":"L694-247","rep":"b","t":27.5,"v":0.57},{"panel":"J","cond":"L694-247","rep":"b","t":30,"v":0.65},{"panel":"J","cond":"L694-247","rep":"b","t":32.5,"v":0.73},{"panel":"J","cond":"L694-247","rep":"b","t":35,"v":0.8},{"panel":"J","cond":"L694-247","rep":"b","t":37.5,"v":0.86},{"panel":"J","cond":"L694-247","rep":"b","t":40,"v":0.91},{"panel":"J","cond":"L694-247","rep":"b","t":42.5,"v":0.93},{"panel":"J","cond":"L694-247","rep":"b","t":45,"v":0.945},{"panel":"J","cond":"L694-247","rep":"b","t":47.5,"v":0.955},{"panel":"J","cond":"L694-247","rep":"b","t":50,"v":0.962},
{"panel":"J","cond":"Control","rep":"a","t":0,"v":0},{"panel":"J","cond":"Control","rep":"a","t":5,"v":0},{"panel":"J","cond":"Control","rep":"a","t":9,"v":0.002},{"panel":"J","cond":"Control","rep":"a","t":10,"v":0.01},{"panel":"J","cond":"Control","rep":"a","t":11,"v":0.035},{"panel":"J","cond":"Control","rep":"a","t":12.5,"v":0.075},{"panel":"J","cond":"Control","rep":"a","t":15,"v":0.135},{"panel":"J","cond":"Control","rep":"a","t":17.5,"v":0.19},{"panel":"J","cond":"Control","rep":"a","t":20,"v":0.25},{"panel":"J","cond":"Control","rep":"a","t":22.5,"v":0.32},{"panel":"J","cond":"Control","rep":"a","t":25,"v":0.4},{"panel":"J","cond":"Control","rep":"a","t":27.5,"v":0.485},{"panel":"J","cond":"Control","rep":"a","t":30,"v":0.565},{"panel":"J","cond":"Control","rep":"a","t":32.5,"v":0.64},{"panel":"J","cond":"Control","rep":"a","t":35,"v":0.71},{"panel":"J","cond":"Control","rep":"a","t":37.5,"v":0.785},{"panel":"J","cond":"Control","rep":"a","t":40,"v":0.85},{"panel":"J","cond":"Control","rep":"a","t":42.5,"v":0.895},{"panel":"J","cond":"Control","rep":"a","t":45,"v":0.93},{"panel":"J","cond":"Control","rep":"a","t":47.5,"v":0.952},{"panel":"J","cond":"Control","rep":"a","t":50,"v":0.963},
{"panel":"J","cond":"Control","rep":"b","t":0,"v":0},{"panel":"J","cond":"Control","rep":"b","t":5,"v":0},{"panel":"J","cond":"Control","rep":"b","t":9,"v":0.003},{"panel":"J","cond":"Control","rep":"b","t":10,"v":0.015},{"panel":"J","cond":"Control","rep":"b","t":11,"v":0.045},{"panel":"J","cond":"Control","rep":"b","t":12.5,"v":0.095},{"panel":"J","cond":"Control","rep":"b","t":15,"v":0.16},{"panel":"J","cond":"Control","rep":"b","t":17.5,"v":0.23},{"panel":"J","cond":"Control","rep":"b","t":20,"v":0.303},{"panel":"J","cond":"Control","rep":"b","t":22.5,"v":0.375},{"panel":"J","cond":"Control","rep":"b","t":25,"v":0.45},{"panel":"J","cond":"Control","rep":"b","t":27.5,"v":0.525},{"panel":"J","cond":"Control","rep":"b","t":30,"v":0.605},{"panel":"J","cond":"Control","rep":"b","t":32.5,"v":0.68},{"panel":"J","cond":"Control","rep":"b","t":35,"v":0.75},{"panel":"J","cond":"Control","rep":"b","t":37.5,"v":0.82},{"panel":"J","cond":"Control","rep":"b","t":40,"v":0.885},{"panel":"J","cond":"Control","rep":"b","t":42.5,"v":0.915},{"panel":"J","cond":"Control","rep":"b","t":45,"v":0.945},{"panel":"J","cond":"Control","rep":"b","t":47.5,"v":0.97},{"panel":"J","cond":"Control","rep":"b","t":50,"v":0.99},
{"panel":"J","cond":"Kynurenate","rep":"a","t":0,"v":0},{"panel":"J","cond":"Kynurenate","rep":"a","t":5,"v":0},{"panel":"J","cond":"Kynurenate","rep":"a","t":9,"v":0.002},{"panel":"J","cond":"Kynurenate","rep":"a","t":10,"v":0.008},{"panel":"J","cond":"Kynurenate","rep":"a","t":11,"v":0.02},{"panel":"J","cond":"Kynurenate","rep":"a","t":12.5,"v":0.035},{"panel":"J","cond":"Kynurenate","rep":"a","t":15,"v":0.05},{"panel":"J","cond":"Kynurenate","rep":"a","t":17.5,"v":0.065},{"panel":"J","cond":"Kynurenate","rep":"a","t":20,"v":0.075},{"panel":"J","cond":"Kynurenate","rep":"a","t":22.5,"v":0.083},{"panel":"J","cond":"Kynurenate","rep":"a","t":25,"v":0.09},{"panel":"J","cond":"Kynurenate","rep":"a","t":27.5,"v":0.095},{"panel":"J","cond":"Kynurenate","rep":"a","t":30,"v":0.1},{"panel":"J","cond":"Kynurenate","rep":"a","t":32.5,"v":0.105},{"panel":"J","cond":"Kynurenate","rep":"a","t":35,"v":0.11},{"panel":"J","cond":"Kynurenate","rep":"a","t":37.5,"v":0.115},{"panel":"J","cond":"Kynurenate","rep":"a","t":40,"v":0.118},{"panel":"J","cond":"Kynurenate","rep":"a","t":42.5,"v":0.122},{"panel":"J","cond":"Kynurenate","rep":"a","t":45,"v":0.125},{"panel":"J","cond":"Kynurenate","rep":"a","t":47.5,"v":0.128},{"panel":"J","cond":"Kynurenate","rep":"a","t":50,"v":0.13},
{"panel":"J","cond":"Kynurenate","rep":"b","t":0,"v":0},{"panel":"J","cond":"Kynurenate","rep":"b","t":5,"v":0},{"panel":"J","cond":"Kynurenate","rep":"b","t":9,"v":0.001},{"panel":"J","cond":"Kynurenate","rep":"b","t":10,"v":0.005},{"panel":"J","cond":"Kynurenate","rep":"b","t":11,"v":0.008},{"panel":"J","cond":"Kynurenate","rep":"b","t":12.5,"v":0.012},{"panel":"J","cond":"Kynurenate","rep":"b","t":15,"v":0.02},{"panel":"J","cond":"Kynurenate","rep":"b","t":17.5,"v":0.042},{"panel":"J","cond":"Kynurenate","rep":"b","t":20,"v":0.05},{"panel":"J","cond":"Kynurenate","rep":"b","t":22.5,"v":0.057},{"panel":"J","cond":"Kynurenate","rep":"b","t":25,"v":0.064},{"panel":"J","cond":"Kynurenate","rep":"b","t":27.5,"v":0.07},{"panel":"J","cond":"Kynurenate","rep":"b","t":30,"v":0.075},{"panel":"J","cond":"Kynurenate","rep":"b","t":32.5,"v":0.08},{"panel":"J","cond":"Kynurenate","rep":"b","t":35,"v":0.085},{"panel":"J","cond":"Kynurenate","rep":"b","t":37.5,"v":0.09},{"panel":"J","cond":"Kynurenate","rep":"b","t":40,"v":0.094},{"panel":"J","cond":"Kynurenate","rep":"b","t":42.5,"v":0.097},{"panel":"J","cond":"Kynurenate","rep":"b","t":45,"v":0.099},{"panel":"J","cond":"Kynurenate","rep":"b","t":47.5,"v":0.1},{"panel":"J","cond":"Kynurenate","rep":"b","t":50,"v":0.1}
]
},
"spacing":13,
"bounds":"full",
"resolve":{"scale":{"color":"independent","fill":"independent"}},
"vconcat":[
{
 "spacing":45,
 "bounds":"full",
 "resolve":{"scale":{"color":"independent","fill":"independent"}},
 "hconcat":[
  {
   "width":243,"height":435.3,
   "resolve":{"scale":{"y":"independent"}},
   "layer":[
    {"layer":[
     {"data":{"name":"bands"},"transform":[{"filter":"datum.trace === 'A l.VR'"}],"mark":{"type":"area","color":"black"},"encoding":{"x":{"field":"t","type":"quantitative","scale":{"domain":[0.489,50],"nice":false,"zero":false},"axis":null},"y":{"field":"lo","type":"quantitative","scale":{"domain":[-1695.7,197.0],"nice":false,"zero":false},"axis":null},"y2":{"field":"hi"}}},
     {"data":{"name":"spikes"},"transform":[{"filter":"datum.trace === 'A l.VR'"}],"mark":{"type":"rule","color":"#4a4a4a","strokeWidth":1},"encoding":{"x":{"field":"t","type":"quantitative","scale":{"domain":[0.489,50],"nice":false,"zero":false},"axis":null},"y":{"field":"lo","type":"quantitative","scale":{"domain":[-1695.7,197.0],"nice":false,"zero":false},"axis":null},"y2":{"field":"hi"}}},
     {"data":{"values":[{}]},"mark":{"type":"text","text":"A","fontSize":23,"align":"left","baseline":"alphabetic"},"encoding":{"x":{"datum":-9.5,"type":"quantitative","scale":{"domain":[0.489,50],"nice":false,"zero":false},"axis":null},"y":{"datum":200,"type":"quantitative","scale":{"domain":[-1695.7,197.0],"nice":false,"zero":false},"axis":null}}},
     {"data":{"values":[{}]},"mark":{"type":"text","text":"Control","fontSize":13.5,"align":"left","baseline":"alphabetic"},"encoding":{"x":{"datum":-4.4,"type":"quantitative","scale":{"domain":[0.489,50],"nice":false,"zero":false},"axis":null},"y":{"datum":214,"type":"quantitative","scale":{"domain":[-1695.7,197.0],"nice":false,"zero":false},"axis":null}}},
     {"data":{"values":[{}]},"mark":{"type":"text","text":"l.VR","fontSize":13.5,"align":"left","baseline":"alphabetic"},"encoding":{"x":{"datum":44.1,"type":"quantitative","scale":{"domain":[0.489,50],"nice":false,"zero":false},"axis":null},"y":{"datum":35,"type":"quantitative","scale":{"domain":[-1695.7,197.0],"nice":false,"zero":false},"axis":null}}}
    ]},
    {"layer":[
     {"data":{"name":"bands"},"transform":[{"filter":"datum.trace === 'A r.VR'"}],"mark":{"type":"area","color":"black"},"encoding":{"x":{"field":"t","type":"quantitative","scale":{"domain":[0.489,50],"nice":false,"zero":false},"axis":null},"y":{"field":"lo","type":"quantitative","scale":{"domain":[-1344.8,547.8],"nice":false,"zero":false},"axis":null},"y2":{"field":"hi"}}},
     {"data":{"name":"spikes"},"transform":[{"filter":"datum.trace === 'A r.VR'"}],"mark":{"type":"rule","color":"#4a4a4a","strokeWidth":1},"encoding":{"x":{"field":"t","type":"quantitative","scale":{"domain":[0.489,50],"nice":false,"zero":false},"axis":null},"y":{"field":"lo","type":"quantitative","scale":{"domain":[-1344.8,547.8],"nice":false,"zero":false},"axis":null},"y2":{"field":"hi"}}},
     {"data":{"values":[{}]},"mark":{"type":"text","text":"r.VR","fontSize":13.5,"align":"left","baseline":"alphabetic"},"encoding":{"x":{"datum":44.1,"type":"quantitative","scale":{"domain":[0.489,50],"nice":false,"zero":false},"axis":null},"y":{"datum":33.5,"type":"quantitative","scale":{"domain":[-1344.8,547.8],"nice":false,"zero":false},"axis":null}}}
    ]},
    {"layer":[
     {"data":{"name":"bands"},"transform":[{"filter":"datum.trace === 'B l.VR'"}],"mark":{"type":"area","color":"black"},"encoding":{"x":{"field":"t","type":"quantitative","scale":{"domain":[0.489,50],"nice":false,"zero":false},"axis":null},"y":{"field":"lo","type":"quantitative","scale":{"domain":[-903,989.6],"nice":false,"zero":false},"axis":null},"y2":{"field":"hi"}}},
     {"data":{"name":"spikes"},"transform":[{"filter":"datum.trace === 'B l.VR'"}],"mark":{"type":"rule","color":"#303030","strokeWidth":1},"encoding":{"x":{"field":"t","type":"quantitative","scale":{"domain":[0.489,50],"nice":false,"zero":false},"axis":null},"y":{"field":"lo","type":"quantitative","scale":{"domain":[-903,989.6],"nice":false,"zero":false},"axis":null},"y2":{"field":"hi"}}},
     {"data":{"name":"cores"},"transform":[{"filter":"datum.trace === 'B l.VR'"}],"mark":{"type":"rule","color":"black","strokeWidth":2.2},"encoding":{"x":{"field":"t","type":"quantitative","scale":{"domain":[0.489,50],"nice":false,"zero":false},"axis":null},"y":{"field":"lo","type":"quantitative","scale":{"domain":[-903,989.6],"nice":false,"zero":false},"axis":null},"y2":{"field":"hi"}}},
     {"data":{"values":[{}]},"mark":{"type":"text","text":"B","fontSize":23,"align":"left","baseline":"alphabetic"},"encoding":{"x":{"datum":-9.5,"type":"quantitative","scale":{"domain":[0.489,50],"nice":false,"zero":false},"axis":null},"y":{"datum":153.5,"type":"quantitative","scale":{"domain":[-903,989.6],"nice":false,"zero":false},"axis":null}}},
     {"data":{"values":[{}]},"mark":{"type":"text","text":"0.1 µM L694-247","fontSize":13.5,"align":"left","baseline":"alphabetic"},"encoding":{"x":{"datum":-4.4,"type":"quantitative","scale":{"domain":[0.489,50],"nice":false,"zero":false},"axis":null},"y":{"datum":166.5,"type":"quantitative","scale":{"domain":[-903,989.6],"nice":false,"zero":false},"axis":null}}}
    ]},
    {"layer":[
     {"data":{"name":"bands"},"transform":[{"filter":"datum.trace === 'B r.VR'"}],"mark":{"type":"area","color":"black"},"encoding":{"x":{"field":"t","type":"quantitative","scale":{"domain":[0.489,50],"nice":false,"zero":false},"axis":null},"y":{"field":"lo","type":"quantitative","scale":{"domain":[-591.3,1301.3],"nice":false,"zero":false},"axis":null},"y2":{"field":"hi"}}},
     {"data":{"name":"spikes"},"transform":[{"filter":"datum.trace === 'B r.VR'"}],"mark":{"type":"rule","color":"#303030","strokeWidth":1},"encoding":{"x":{"field":"t","type":"quantitative","scale":{"domain":[0.489,50],"nice":false,"zero":false},"axis":null},"y":{"field":"lo","type":"quantitative","scale":{"domain":[-591.3,1301.3],"nice":false,"zero":false},"axis":null},"y2":{"field":"hi"}}},
     {"data":{"name":"cores"},"transform":[{"filter":"datum.trace === 'B r.VR'"}],"mark":{"type":"rule","color":"black","strokeWidth":2.2},"encoding":{"x":{"field":"t","type":"quantitative","scale":{"domain":[0.489,50],"nice":false,"zero":false},"axis":null},"y":{"field":"lo","type":"quantitative","scale":{"domain":[-591.3,1301.3],"nice":false,"zero":false},"axis":null},"y2":{"field":"hi"}}},
     {"data":{"values":[{}]},"mark":{"type":"rule","color":"black","strokeWidth":1},"encoding":{"x":{"datum":38.05,"type":"quantitative","scale":{"domain":[0.489,50],"nice":false,"zero":false},"axis":null},"y":{"datum":-239,"type":"quantitative","scale":{"domain":[-591.3,1301.3],"nice":false,"zero":false},"axis":null},"y2":{"datum":-139}}},
     {"data":{"values":[{}]},"mark":{"type":"rule","color":"black","strokeWidth":1},"encoding":{"x":{"datum":38.05,"type":"quantitative","scale":{"domain":[0.489,50],"nice":false,"zero":false},"axis":null},"x2":{"datum":48.05},"y":{"datum":-239,"type":"quantitative","scale":{"domain":[-591.3,1301.3],"nice":false,"zero":false},"axis":null}}},
     {"data":{"values":[{}]},"mark":{"type":"text","text":"100 µV","fontSize":13.5,"align":"right","baseline":"middle"},"encoding":{"x":{"datum":37.3,"type":"quantitative","scale":{"domain":[0.489,50],"nice":false,"zero":false},"axis":null},"y":{"datum":-190,"type":"quantitative","scale":{"domain":[-591.3,1301.3],"nice":false,"zero":false},"axis":null}}},
     {"data":{"values":[{}]},"mark":{"type":"text","text":"10 s","fontSize":13.5,"align":"center","baseline":"alphabetic"},"encoding":{"x":{"datum":43.3,"type":"quantitative","scale":{"domain":[0.489,50],"nice":false,"zero":false},"axis":null},"y":{"datum":-300,"type":"quantitative","scale":{"domain":[-591.3,1301.3],"nice":false,"zero":false},"axis":null}}}
    ]},
    {"layer":[
     {"data":{"name":"bands"},"transform":[{"filter":"datum.trace === 'C l.VR'"}],"mark":{"type":"area","color":"black"},"encoding":{"x":{"field":"t","type":"quantitative","scale":{"domain":[0.489,50],"nice":false,"zero":false},"axis":null},"y":{"field":"lo","type":"quantitative","scale":{"domain":[-221.7,1670.9],"nice":false,"zero":false},"axis":null},"y2":{"field":"hi"}}},
     {"data":{"name":"spikes"},"transform":[{"filter":"datum.trace === 'C l.VR'"}],"mark":{"type":"rule","color":"#383838","strokeWidth":1},"encoding":{"x":{"field":"t","type":"quantitative","scale":{"domain":[0.489,50],"nice":false,"zero":false},"axis":null},"y":{"field":"lo","type":"quantitative","scale":{"domain":[-221.7,1670.9],"nice":false,"zero":false},"axis":null},"y2":{"field":"hi"}}},
     {"data":{"values":[{}]},"mark":{"type":"text","text":"C","fontSize":23,"align":"left","baseline":"alphabetic"},"encoding":{"x":{"datum":-9.5,"type":"quantitative","scale":{"domain":[0.489,50],"nice":false,"zero":false},"axis":null},"y":{"datum":60.9,"type":"quantitative","scale":{"domain":[-221.7,1670.9],"nice":false,"zero":false},"axis":null}}},
     {"data":{"values":[{}]},"mark":{"type":"text","text":"200 µM kynurenate","fontSize":13.5,"align":"left","baseline":"alphabetic"},"encoding":{"x":{"datum":-4.06,"type":"quantitative","scale":{"domain":[0.489,50],"nice":false,"zero":false},"axis":null},"y":{"datum":69.6,"type":"quantitative","scale":{"domain":[-221.7,1670.9],"nice":false,"zero":false},"axis":null}}}
    ]},
    {"layer":[
     {"data":{"name":"bands"},"transform":[{"filter":"datum.trace === 'C r.VR'"}],"mark":{"type":"area","color":"black"},"encoding":{"x":{"field":"t","type":"quantitative","scale":{"domain":[0.489,50],"nice":false,"zero":false},"axis":null},"y":{"field":"lo","type":"quantitative","scale":{"domain":[-47.8,1844.8],"nice":false,"zero":false},"axis":null},"y2":{"field":"hi"}}},
     {"data":{"name":"spikes"},"transform":[{"filter":"datum.trace === 'C r.VR'"}],"mark":{"type":"rule","color":"#383838","strokeWidth":1},"encoding":{"x":{"field":"t","type":"quantitative","scale":{"domain":[0.489,50],"nice":false,"zero":false},"axis":null},"y":{"field":"lo","type":"quantitative","scale":{"domain":[-47.8,1844.8],"nice":false,"zero":false},"axis":null},"y2":{"field":"hi"}}}
    ]}
   ]
  },
  {
   "spacing":78.3,
   "bounds":"flush",
   "vconcat":[
    {
     "width":172.3,"height":171,
     "data":{"name":"freq"},
     "layer":[
      {"mark":{"type":"bar","stroke":"black","strokeWidth":1},"encoding":{
        "x":{"field":"condition","type":"nominal","sort":null,"scale":{"type":"band","domain":["control","0.6 µM 5-HT","1 µM 5-HT","0.1 µM L694-247","0.2 µM L694-247"],"paddingInner":0.1837,"paddingOuter":0.1035,"align":0.75},"axis":{"labels":false,"ticks":false,"title":null,"domain":true}},
        "y":{"field":"mean","type":"quantitative","scale":{"domain":[0,125.6],"nice":false,"zero":false},"axis":{"values":[0,20,40,60,80,100,120],"tickSize":4,"labelPadding":2,"labelOverlap":false,"labelSeparation":-20,"title":"% control cycle frequency","titlePadding":5}},
        "fill":{"field":"dose","type":"nominal","scale":{"domain":["control","lower dose","higher dose"],"range":["#ffffff","#ababab","#686868"]},"legend":null}}},
      {"transform":[{"filter":"datum.upper > datum.mean"}],"mark":{"type":"rule","color":"black","strokeWidth":1},"encoding":{
        "x":{"field":"condition","type":"nominal","sort":null,"scale":{"type":"band","domain":["control","0.6 µM 5-HT","1 µM 5-HT","0.1 µM L694-247","0.2 µM L694-247"],"paddingInner":0.1837,"paddingOuter":0.1035,"align":0.75}},
        "y":{"field":"mean","type":"quantitative","scale":{"domain":[0,125.6],"nice":false,"zero":false},"axis":{"values":[0,20,40,60,80,100,120],"labelOverlap":false,"labelSeparation":-20}},"y2":{"field":"upper"}}},
      {"transform":[{"filter":"datum.upper > datum.mean"}],"mark":{"type":"tick","color":"black","orient":"horizontal","size":8,"thickness":1},"encoding":{
        "x":{"field":"condition","type":"nominal","sort":null,"scale":{"type":"band","domain":["control","0.6 µM 5-HT","1 µM 5-HT","0.1 µM L694-247","0.2 µM L694-247"],"paddingInner":0.1837,"paddingOuter":0.1035,"align":0.75}},
        "y":{"field":"upper","type":"quantitative","scale":{"domain":[0,125.6],"nice":false,"zero":false},"axis":{"values":[0,20,40,60,80,100,120],"labelOverlap":false,"labelSeparation":-20}}}},
      {"mark":{"type":"text","angle":270,"align":"left","baseline":"middle","fontSize":13,"color":"#111111"},"encoding":{
        "x":{"field":"condition","type":"nominal","sort":null,"scale":{"type":"band","domain":["control","0.6 µM 5-HT","1 µM 5-HT","0.1 µM L694-247","0.2 µM L694-247"],"paddingInner":0.1837,"paddingOuter":0.1035,"align":0.75}},
        "y":{"datum":2,"type":"quantitative","scale":{"domain":[0,125.6],"nice":false,"zero":false},"axis":{"values":[0,20,40,60,80,100,120],"labelOverlap":false,"labelSeparation":-20}},"text":{"field":"label"}}},
      {"data":{"values":[{}]},"mark":{"type":"text","text":"control","fontSize":13,"align":"center","baseline":"middle"},"encoding":{
        "x":{"datum":"control","type":"nominal","scale":{"type":"band","domain":["control","0.6 µM 5-HT","1 µM 5-HT","0.1 µM L694-247","0.2 µM L694-247"],"paddingInner":0.1837,"paddingOuter":0.1035,"align":0.75}},
        "y":{"datum":-9,"type":"quantitative","scale":{"domain":[0,125.6],"nice":false,"zero":false},"axis":{"values":[0,20,40,60,80,100,120],"labelOverlap":false,"labelSeparation":-20}}}},
      {"data":{"values":[{}]},"mark":{"type":"text","text":"5-HT","fontSize":13,"align":"center","baseline":"middle","dx":17},"encoding":{
        "x":{"datum":"0.6 µM 5-HT","type":"nominal","scale":{"type":"band","domain":["control","0.6 µM 5-HT","1 µM 5-HT","0.1 µM L694-247","0.2 µM L694-247"],"paddingInner":0.1837,"paddingOuter":0.1035,"align":0.75}},
        "y":{"datum":-9,"type":"quantitative","scale":{"domain":[0,125.6],"nice":false,"zero":false},"axis":{"values":[0,20,40,60,80,100,120],"labelOverlap":false,"labelSeparation":-20}}}},
      {"data":{"values":[{}]},"mark":{"type":"text","text":"L694-247","fontSize":13,"align":"center","baseline":"middle","dx":17},"encoding":{
        "x":{"datum":"0.1 µM L694-247","type":"nominal","scale":{"type":"band","domain":["control","0.6 µM 5-HT","1 µM 5-HT","0.1 µM L694-247","0.2 µM L694-247"],"paddingInner":0.1837,"paddingOuter":0.1035,"align":0.75}},
        "y":{"datum":-9,"type":"quantitative","scale":{"domain":[0,125.6],"nice":false,"zero":false},"axis":{"values":[0,20,40,60,80,100,120],"labelOverlap":false,"labelSeparation":-20}}}},
      {"data":{"values":[{}]},"mark":{"type":"text","text":"D","fontSize":23,"align":"left","baseline":"alphabetic","dx":-93},"encoding":{
        "x":{"datum":"control","type":"nominal","scale":{"type":"band","domain":["control","0.6 µM 5-HT","1 µM 5-HT","0.1 µM L694-247","0.2 µM L694-247"],"paddingInner":0.1837,"paddingOuter":0.1035,"align":0.75}},
        "y":{"datum":127.56,"type":"quantitative","scale":{"domain":[0,125.6],"nice":false,"zero":false},"axis":{"values":[0,20,40,60,80,100,120],"labelOverlap":false,"labelSeparation":-20}}}},
      {"data":{"values":[{}]},"mark":{"type":"text","text":"fictive locomotion frequency","fontSize":13,"align":"left","baseline":"alphabetic","dx":-72},"encoding":{
        "x":{"datum":"control","type":"nominal","scale":{"type":"band","domain":["control","0.6 µM 5-HT","1 µM 5-HT","0.1 µM L694-247","0.2 µM L694-247"],"paddingInner":0.1837,"paddingOuter":0.1035,"align":0.75}},
        "y":{"datum":129.4,"type":"quantitative","scale":{"domain":[0,125.6],"nice":false,"zero":false},"axis":{"values":[0,20,40,60,80,100,120],"labelOverlap":false,"labelSeparation":-20}}}}
     ]
    },
    {
     "width":172.3,"height":171,
     "data":{"name":"dur"},
     "layer":[
      {"mark":{"type":"bar","stroke":"black","strokeWidth":1},"encoding":{
        "x":{"field":"condition","type":"nominal","sort":null,"scale":{"type":"band","domain":["control","0.6 µM 5-HT","1 µM 5-HT","0.1 µM L694-247","0.2 µM L694-247"],"paddingInner":0.1837,"paddingOuter":0.1035,"align":0.75},"axis":{"labels":false,"ticks":false,"title":null,"domain":true}},
        "y":{"field":"mean","type":"quantitative","scale":{"domain":[0,126.1],"nice":false,"zero":false},"axis":{"values":[0,20,40,60,80,100,120],"tickSize":4,"labelPadding":2,"labelOverlap":false,"labelSeparation":-20,"title":"% control bout duration","titlePadding":5}},
        "fill":{"field":"dose","type":"nominal","scale":{"domain":["control","lower dose","higher dose"],"range":["#ffffff","#ababab","#686868"]},"legend":null}}},
      {"transform":[{"filter":"datum.upper > datum.mean"}],"mark":{"type":"rule","color":"black","strokeWidth":1},"encoding":{
        "x":{"field":"condition","type":"nominal","sort":null,"scale":{"type":"band","domain":["control","0.6 µM 5-HT","1 µM 5-HT","0.1 µM L694-247","0.2 µM L694-247"],"paddingInner":0.1837,"paddingOuter":0.1035,"align":0.75}},
        "y":{"field":"mean","type":"quantitative","scale":{"domain":[0,126.1],"nice":false,"zero":false},"axis":{"values":[0,20,40,60,80,100,120],"labelOverlap":false,"labelSeparation":-20}},"y2":{"field":"upper"}}},
      {"transform":[{"filter":"datum.upper > datum.mean"}],"mark":{"type":"tick","color":"black","orient":"horizontal","size":8,"thickness":1},"encoding":{
        "x":{"field":"condition","type":"nominal","sort":null,"scale":{"type":"band","domain":["control","0.6 µM 5-HT","1 µM 5-HT","0.1 µM L694-247","0.2 µM L694-247"],"paddingInner":0.1837,"paddingOuter":0.1035,"align":0.75}},
        "y":{"field":"upper","type":"quantitative","scale":{"domain":[0,126.1],"nice":false,"zero":false},"axis":{"values":[0,20,40,60,80,100,120],"labelOverlap":false,"labelSeparation":-20}}}},
      {"mark":{"type":"text","angle":270,"align":"left","baseline":"middle","fontSize":13,"color":"#111111"},"encoding":{
        "x":{"field":"condition","type":"nominal","sort":null,"scale":{"type":"band","domain":["control","0.6 µM 5-HT","1 µM 5-HT","0.1 µM L694-247","0.2 µM L694-247"],"paddingInner":0.1837,"paddingOuter":0.1035,"align":0.75}},
        "y":{"datum":6,"type":"quantitative","scale":{"domain":[0,126.1],"nice":false,"zero":false},"axis":{"values":[0,20,40,60,80,100,120],"labelOverlap":false,"labelSeparation":-20}},"text":{"field":"label"}}},
      {"data":{"values":[{}]},"mark":{"type":"text","text":"control","fontSize":13,"align":"center","baseline":"middle"},"encoding":{
        "x":{"datum":"control","type":"nominal","scale":{"type":"band","domain":["control","0.6 µM 5-HT","1 µM 5-HT","0.1 µM L694-247","0.2 µM L694-247"],"paddingInner":0.1837,"paddingOuter":0.1035,"align":0.75}},
        "y":{"datum":-9.1,"type":"quantitative","scale":{"domain":[0,126.1],"nice":false,"zero":false},"axis":{"values":[0,20,40,60,80,100,120],"labelOverlap":false,"labelSeparation":-20}}}},
      {"data":{"values":[{}]},"mark":{"type":"text","text":"5-HT","fontSize":13,"align":"center","baseline":"middle","dx":17},"encoding":{
        "x":{"datum":"0.6 µM 5-HT","type":"nominal","scale":{"type":"band","domain":["control","0.6 µM 5-HT","1 µM 5-HT","0.1 µM L694-247","0.2 µM L694-247"],"paddingInner":0.1837,"paddingOuter":0.1035,"align":0.75}},
        "y":{"datum":-9.1,"type":"quantitative","scale":{"domain":[0,126.1],"nice":false,"zero":false},"axis":{"values":[0,20,40,60,80,100,120],"labelOverlap":false,"labelSeparation":-20}}}},
      {"data":{"values":[{}]},"mark":{"type":"text","text":"L694-247","fontSize":13,"align":"center","baseline":"middle","dx":17},"encoding":{
        "x":{"datum":"0.1 µM L694-247","type":"nominal","scale":{"type":"band","domain":["control","0.6 µM 5-HT","1 µM 5-HT","0.1 µM L694-247","0.2 µM L694-247"],"paddingInner":0.1837,"paddingOuter":0.1035,"align":0.75}},
        "y":{"datum":-9.1,"type":"quantitative","scale":{"domain":[0,126.1],"nice":false,"zero":false},"axis":{"values":[0,20,40,60,80,100,120],"labelOverlap":false,"labelSeparation":-20}}}},
      {"data":{"values":[{}]},"mark":{"type":"text","text":"E","fontSize":23,"align":"left","baseline":"alphabetic","dx":-93},"encoding":{
        "x":{"datum":"control","type":"nominal","scale":{"type":"band","domain":["control","0.6 µM 5-HT","1 µM 5-HT","0.1 µM L694-247","0.2 µM L694-247"],"paddingInner":0.1837,"paddingOuter":0.1035,"align":0.75}},
        "y":{"datum":135.7,"type":"quantitative","scale":{"domain":[0,126.1],"nice":false,"zero":false},"axis":{"values":[0,20,40,60,80,100,120],"labelOverlap":false,"labelSeparation":-20}}}},
      {"data":{"values":[{}]},"mark":{"type":"text","text":"fictive locomotion bout duration","fontSize":13,"align":"left","baseline":"alphabetic","dx":-72},"encoding":{
        "x":{"datum":"control","type":"nominal","scale":{"type":"band","domain":["control","0.6 µM 5-HT","1 µM 5-HT","0.1 µM L694-247","0.2 µM L694-247"],"paddingInner":0.1837,"paddingOuter":0.1035,"align":0.75}},
        "y":{"datum":136.5,"type":"quantitative","scale":{"domain":[0,126.1],"nice":false,"zero":false},"axis":{"values":[0,20,40,60,80,100,120],"labelOverlap":false,"labelSeparation":-20}}}}
     ]
    }
   ]
  }
 ]
},
{
 "spacing":18,
 "bounds":"flush",
 "resolve":{"scale":{"color":"independent"}},
 "hconcat":[
  {
   "width":158,"height":118,
   "layer":[
    {"data":{"name":"epsc"},"transform":[{"filter":"datum.panel === 'F'"}],"mark":{"type":"line","strokeWidth":1.2},"encoding":{
      "x":{"field":"t","type":"quantitative","scale":{"domain":[16.85,99.27],"nice":false,"zero":false},"axis":null},
      "y":{"field":"i","type":"quantitative","scale":{"domain":[-119.5,52.5],"nice":false,"zero":false},"axis":null},
      "color":{"field":"cond","type":"nominal","scale":{"domain":["control","drug"],"range":["#000000","#8a8a8a"]},"legend":null},
      "detail":{"field":"part","type":"nominal"}}},
    {"data":{"values":[{}]},"mark":{"type":"rule","color":"black","strokeWidth":1},"encoding":{"x":{"datum":75.64,"type":"quantitative","scale":{"domain":[16.85,99.27],"nice":false,"zero":false},"axis":null},"y":{"datum":-35,"type":"quantitative","scale":{"domain":[-119.5,52.5],"nice":false,"zero":false},"axis":null},"y2":{"datum":-85}}},
    {"data":{"values":[{}]},"mark":{"type":"rule","color":"black","strokeWidth":1},"encoding":{"x":{"datum":75.64,"type":"quantitative","scale":{"domain":[16.85,99.27],"nice":false,"zero":false},"axis":null},"x2":{"datum":95.64},"y":{"datum":-85,"type":"quantitative","scale":{"domain":[-119.5,52.5],"nice":false,"zero":false},"axis":null}}},
    {"data":{"values":[{}]},"mark":{"type":"text","text":"F","fontSize":23,"align":"left","baseline":"alphabetic"},"encoding":{"x":{"datum":-7.67,"type":"quantitative","scale":{"domain":[16.85,99.27],"nice":false,"zero":false},"axis":null},"y":{"datum":21.9,"type":"quantitative","scale":{"domain":[-119.5,52.5],"nice":false,"zero":false},"axis":null}}},
    {"data":{"values":[{}]},"mark":{"type":"text","text":"0.6 µM 5-HT","fontSize":13,"color":"#8a8a8a","align":"left","baseline":"alphabetic"},"encoding":{"x":{"datum":4.33,"type":"quantitative","scale":{"domain":[16.85,99.27],"nice":false,"zero":false},"axis":null},"y":{"datum":20.4,"type":"quantitative","scale":{"domain":[-119.5,52.5],"nice":false,"zero":false},"axis":null}}},
    {"data":{"values":[{}]},"mark":{"type":"text","text":"50 pA","fontSize":13,"align":"right","baseline":"middle"},"encoding":{"x":{"datum":73.87,"type":"quantitative","scale":{"domain":[16.85,99.27],"nice":false,"zero":false},"axis":null},"y":{"datum":-58.3,"type":"quantitative","scale":{"domain":[-119.5,52.5],"nice":false,"zero":false},"axis":null}}},
    {"data":{"values":[{}]},"mark":{"type":"text","text":"20 ms","fontSize":13,"align":"center","baseline":"middle"},"encoding":{"x":{"datum":86.07,"type":"quantitative","scale":{"domain":[16.85,99.27],"nice":false,"zero":false},"axis":null},"y":{"datum":-102,"type":"quantitative","scale":{"domain":[-119.5,52.5],"nice":false,"zero":false},"axis":null}}}
   ]
  },
  {
   "width":188,"height":118,
   "layer":[
    {"data":{"name":"epsc"},"transform":[{"filter":"datum.panel === 'G'"}],"mark":{"type":"line","strokeWidth":1.2},"encoding":{
      "x":{"field":"t","type":"quantitative","scale":{"domain":[-3.165,85.64],"nice":false,"zero":false},"axis":null},
      "y":{"field":"i","type":"quantitative","scale":{"domain":[-307.1,134.8],"nice":false,"zero":false},"axis":null},
      "color":{"field":"cond","type":"nominal","scale":{"domain":["control","drug"],"range":["#000000","#8a8a8a"]},"legend":null},
      "detail":{"field":"part","type":"nominal"}}},
    {"data":{"values":[{}]},"mark":{"type":"rule","color":"black","strokeWidth":1},"encoding":{"x":{"datum":64.24,"type":"quantitative","scale":{"domain":[-3.165,85.64],"nice":false,"zero":false},"axis":null},"y":{"datum":-125,"type":"quantitative","scale":{"domain":[-307.1,134.8],"nice":false,"zero":false},"axis":null},"y2":{"datum":-225}}},
    {"data":{"values":[{}]},"mark":{"type":"rule","color":"black","strokeWidth":1},"encoding":{"x":{"datum":64.24,"type":"quantitative","scale":{"domain":[-3.165,85.64],"nice":false,"zero":false},"axis":null},"x2":{"datum":84.24},"y":{"datum":-225,"type":"quantitative","scale":{"domain":[-307.1,134.8],"nice":false,"zero":false},"axis":null}}},
    {"data":{"values":[{}]},"mark":{"type":"text","text":"G","fontSize":23,"align":"left","baseline":"alphabetic"},"encoding":{"x":{"datum":0.14,"type":"quantitative","scale":{"domain":[-3.165,85.64],"nice":false,"zero":false},"axis":null},"y":{"datum":48.7,"type":"quantitative","scale":{"domain":[-307.1,134.8],"nice":false,"zero":false},"axis":null}}},
    {"data":{"values":[{}]},"mark":{"type":"text","text":"0.1 µM L694-247","fontSize":13,"color":"#8a8a8a","align":"left","baseline":"alphabetic"},"encoding":{"x":{"datum":9.59,"type":"quantitative","scale":{"domain":[-3.165,85.64],"nice":false,"zero":false},"axis":null},"y":{"datum":52.4,"type":"quantitative","scale":{"domain":[-307.1,134.8],"nice":false,"zero":false},"axis":null}}},
    {"data":{"values":[{}]},"mark":{"type":"text","text":"100 pA","fontSize":13,"align":"right","baseline":"middle"},"encoding":{"x":{"datum":63.2,"type":"quantitative","scale":{"domain":[-3.165,85.64],"nice":false,"zero":false},"axis":null},"y":{"datum":-179.8,"type":"quantitative","scale":{"domain":[-307.1,134.8],"nice":false,"zero":false},"axis":null}}},
    {"data":{"values":[{}]},"mark":{"type":"text","text":"20 ms","fontSize":13,"align":"center","baseline":"middle"},"encoding":{"x":{"datum":73.6,"type":"quantitative","scale":{"domain":[-3.165,85.64],"nice":false,"zero":false},"axis":null},"y":{"datum":-268.5,"type":"quantitative","scale":{"domain":[-307.1,134.8],"nice":false,"zero":false},"axis":null}}}
   ]
  },
  {
   "width":194,"height":118,
   "layer":[
    {"data":{"name":"epsc"},"transform":[{"filter":"datum.panel === 'H'"}],"mark":{"type":"line","strokeWidth":1.2},"encoding":{
      "x":{"field":"t","type":"quantitative","scale":{"domain":[-1.232,102.68],"nice":false,"zero":false},"axis":null},
      "y":{"field":"i","type":"quantitative","scale":{"domain":[-136.8,64.2],"nice":false,"zero":false},"axis":null},
      "color":{"field":"cond","type":"nominal","scale":{"domain":["control","drug"],"range":["#000000","#8a8a8a"]},"legend":null},
      "detail":{"field":"part","type":"nominal"}}},
    {"data":{"values":[{}]},"mark":{"type":"rule","color":"black","strokeWidth":1},"encoding":{"x":{"datum":65.72,"type":"quantitative","scale":{"domain":[-1.232,102.68],"nice":false,"zero":false},"axis":null},"y":{"datum":-42.6,"type":"quantitative","scale":{"domain":[-136.8,64.2],"nice":false,"zero":false},"axis":null},"y2":{"datum":-92.6}}},
    {"data":{"values":[{}]},"mark":{"type":"rule","color":"black","strokeWidth":1},"encoding":{"x":{"datum":65.72,"type":"quantitative","scale":{"domain":[-1.232,102.68],"nice":false,"zero":false},"axis":null},"x2":{"datum":85.72},"y":{"datum":-92.6,"type":"quantitative","scale":{"domain":[-136.8,64.2],"nice":false,"zero":false},"axis":null}}},
    {"data":{"values":[{}]},"mark":{"type":"text","text":"H","fontSize":23,"align":"left","baseline":"alphabetic"},"encoding":{"x":{"datum":-1.23,"type":"quantitative","scale":{"domain":[-1.232,102.68],"nice":false,"zero":false},"axis":null},"y":{"datum":26.7,"type":"quantitative","scale":{"domain":[-136.8,64.2],"nice":false,"zero":false},"axis":null}}},
    {"data":{"values":[{}]},"mark":{"type":"text","text":"200 µM kynurenate","fontSize":13,"color":"#8a8a8a","align":"left","baseline":"alphabetic"},"encoding":{"x":{"datum":10.71,"type":"quantitative","scale":{"domain":[-1.232,102.68],"nice":false,"zero":false},"axis":null},"y":{"datum":28.4,"type":"quantitative","scale":{"domain":[-136.8,64.2],"nice":false,"zero":false},"axis":null}}},
    {"data":{"values":[{}]},"mark":{"type":"text","text":"50 pA","fontSize":13,"align":"right","baseline":"middle"},"encoding":{"x":{"datum":63.42,"type":"quantitative","scale":{"domain":[-1.232,102.68],"nice":false,"zero":false},"axis":null},"y":{"datum":-65.2,"type":"quantitative","scale":{"domain":[-136.8,64.2],"nice":false,"zero":false},"axis":null}}},
    {"data":{"values":[{}]},"mark":{"type":"text","text":"20 ms","fontSize":13,"align":"center","baseline":"middle"},"encoding":{"x":{"datum":75.36,"type":"quantitative","scale":{"domain":[-1.232,102.68],"nice":false,"zero":false},"axis":null},"y":{"datum":-110.7,"type":"quantitative","scale":{"domain":[-136.8,64.2],"nice":false,"zero":false},"axis":null}}}
   ]
  }
 ]
},
{
 "spacing":86.7,
 "bounds":"flush",
 "resolve":{"scale":{"color":"independent"}},
 "hconcat":[
  {
   "width":241,"height":214.3,
   "layer":[
    {"data":{"name":"vr"},"transform":[{"filter":"datum.panel === 'I' && datum.rep === 'a'"}],"mark":{"type":"line","strokeWidth":1.8},"encoding":{
      "x":{"field":"t","type":"quantitative","scale":{"domain":[-0.2,50],"nice":false,"zero":false},"axis":{"values":[0,10,20,30,40,50],"format":"d","tickSize":5,"labelPadding":6.5,"labelFlush":false,"title":"Time (s)","titlePadding":1}},
      "y":{"field":"v","type":"quantitative","scale":{"domain":[-0.0533,0.661],"nice":false,"zero":false},"axis":{"values":[0,0.2,0.4,0.6],"format":".1f","tickSize":5,"labelPadding":1.5,"title":"ventral root output (µV.s)","titlePadding":5}},
      "color":{"field":"cond","type":"nominal","scale":{"domain":["L694-247","Control","Kynurenate"],"range":["#9b9b9b","#cdcdcd","#a8a8a8"]},"legend":null}}},
    {"data":{"name":"vr"},"transform":[{"filter":"datum.panel === 'I' && datum.rep === 'b'"}],"mark":{"type":"line","strokeWidth":1,"color":"black"},"encoding":{
      "x":{"field":"t","type":"quantitative","scale":{"domain":[-0.2,50],"nice":false,"zero":false}},
      "y":{"field":"v","type":"quantitative","scale":{"domain":[-0.0533,0.661],"nice":false,"zero":false}},
      "detail":{"field":"cond","type":"nominal"}}},
    {"data":{"values":[{}]},"mark":{"type":"text","text":"0.1 µM L694-247","fontSize":13,"align":"left","baseline":"middle"},"encoding":{"x":{"datum":18.75,"type":"quantitative","scale":{"domain":[-0.2,50],"nice":false,"zero":false}},"y":{"datum":0.579,"type":"quantitative","scale":{"domain":[-0.0533,0.661],"nice":false,"zero":false}}}},
    {"data":{"values":[{}]},"mark":{"type":"text","text":"Control","fontSize":13,"align":"left","baseline":"middle"},"encoding":{"x":{"datum":39.9,"type":"quantitative","scale":{"domain":[-0.2,50],"nice":false,"zero":false}},"y":{"datum":0.461,"type":"quantitative","scale":{"domain":[-0.0533,0.661],"nice":false,"zero":false}}}},
    {"data":{"values":[{}]},"mark":{"type":"text","text":"200 µM kynurenate","fontSize":13,"align":"left","baseline":"middle"},"encoding":{"x":{"datum":25,"type":"quantitative","scale":{"domain":[-0.2,50],"nice":false,"zero":false}},"y":{"datum":-0.02,"type":"quantitative","scale":{"domain":[-0.0533,0.661],"nice":false,"zero":false}}}},
    {"data":{"values":[{}]},"mark":{"type":"text","text":"I","fontSize":23,"align":"left","baseline":"alphabetic"},"encoding":{"x":{"datum":-10.42,"type":"quantitative","scale":{"domain":[-0.2,50],"nice":false,"zero":false}},"y":{"datum":0.721,"type":"quantitative","scale":{"domain":[-0.0533,0.661],"nice":false,"zero":false}}}},
    {"data":{"values":[{}]},"mark":{"type":"text","text":"Sum of ventral root output","fontSize":13,"align":"left","baseline":"alphabetic"},"encoding":{"x":{"datum":-6.6,"type":"quantitative","scale":{"domain":[-0.2,50],"nice":false,"zero":false}},"y":{"datum":0.709,"type":"quantitative","scale":{"domain":[-0.0533,0.661],"nice":false,"zero":false}}}}
   ]
  },
  {
   "width":240,"height":214.3,
   "layer":[
    {"data":{"name":"vr"},"transform":[{"filter":"datum.panel === 'J' && datum.rep === 'a'"}],"mark":{"type":"line","strokeWidth":1.8},"encoding":{
      "x":{"field":"t","type":"quantitative","scale":{"domain":[-0.336,50],"nice":false,"zero":false},"axis":{"values":[0,10,20,30,40,50],"format":"d","tickSize":5,"labelPadding":6.5,"labelFlush":false,"title":"Time (s)","titlePadding":1}},
      "y":{"field":"v","type":"quantitative","scale":{"domain":[-0.0594,1.2139],"nice":false,"zero":false},"axis":{"values":[0,0.2,0.4,0.6,0.8,1.0],"format":".1f","tickSize":4,"labelPadding":1,"title":"Normalized ventral root output","titlePadding":20}},
      "color":{"field":"cond","type":"nominal","scale":{"domain":["L694-247","Control","Kynurenate"],"range":["#ababab","#ababab","#b0b0b0"]},"legend":null}}},
    {"data":{"name":"vr"},"transform":[{"filter":"datum.panel === 'J' && datum.rep === 'b'"}],"mark":{"type":"line","strokeWidth":1,"color":"black"},"encoding":{
      "x":{"field":"t","type":"quantitative","scale":{"domain":[-0.336,50],"nice":false,"zero":false}},
      "y":{"field":"v","type":"quantitative","scale":{"domain":[-0.0594,1.2139],"nice":false,"zero":false}},
      "detail":{"field":"cond","type":"nominal"}}},
    {"data":{"values":[{}]},"mark":{"type":"text","text":"0.1 µM L694-247","fontSize":13,"align":"left","baseline":"middle"},"encoding":{"x":{"datum":22.03,"type":"quantitative","scale":{"domain":[-0.336,50],"nice":false,"zero":false}},"y":{"datum":0.968,"type":"quantitative","scale":{"domain":[-0.0594,1.2139],"nice":false,"zero":false}}}},
    {"data":{"values":[{}]},"mark":{"type":"text","text":"Control","fontSize":13,"align":"left","baseline":"middle"},"encoding":{"x":{"datum":36.7,"type":"quantitative","scale":{"domain":[-0.336,50],"nice":false,"zero":false}},"y":{"datum":0.745,"type":"quantitative","scale":{"domain":[-0.0594,1.2139],"nice":false,"zero":false}}}},
    {"data":{"values":[{}]},"mark":{"type":"text","text":"200 µM kynurenate","fontSize":13,"align":"left","baseline":"middle"},"encoding":{"x":{"datum":24.8,"type":"quantitative","scale":{"domain":[-0.336,50],"nice":false,"zero":false}},"y":{"datum":0.0095,"type":"quantitative","scale":{"domain":[-0.0594,1.2139],"nice":false,"zero":false}}}},
    {"data":{"values":[{}]},"mark":{"type":"text","text":"J","fontSize":23,"align":"left","baseline":"alphabetic"},"encoding":{"x":{"datum":-11.18,"type":"quantitative","scale":{"domain":[-0.336,50],"nice":false,"zero":false}},"y":{"datum":1.321,"type":"quantitative","scale":{"domain":[-0.0594,1.2139],"nice":false,"zero":false}}}},
    {"data":{"values":[{}]},"mark":{"type":"text","text":"Normalized ventral root output","fontSize":13,"align":"left","baseline":"alphabetic"},"encoding":{"x":{"datum":-5.94,"type":"quantitative","scale":{"domain":[-0.336,50],"nice":false,"zero":false}},"y":{"datum":1.297,"type":"quantitative","scale":{"domain":[-0.0594,1.2139],"nice":false,"zero":false}}}}
   ]
  }
 ]
}
]
}
